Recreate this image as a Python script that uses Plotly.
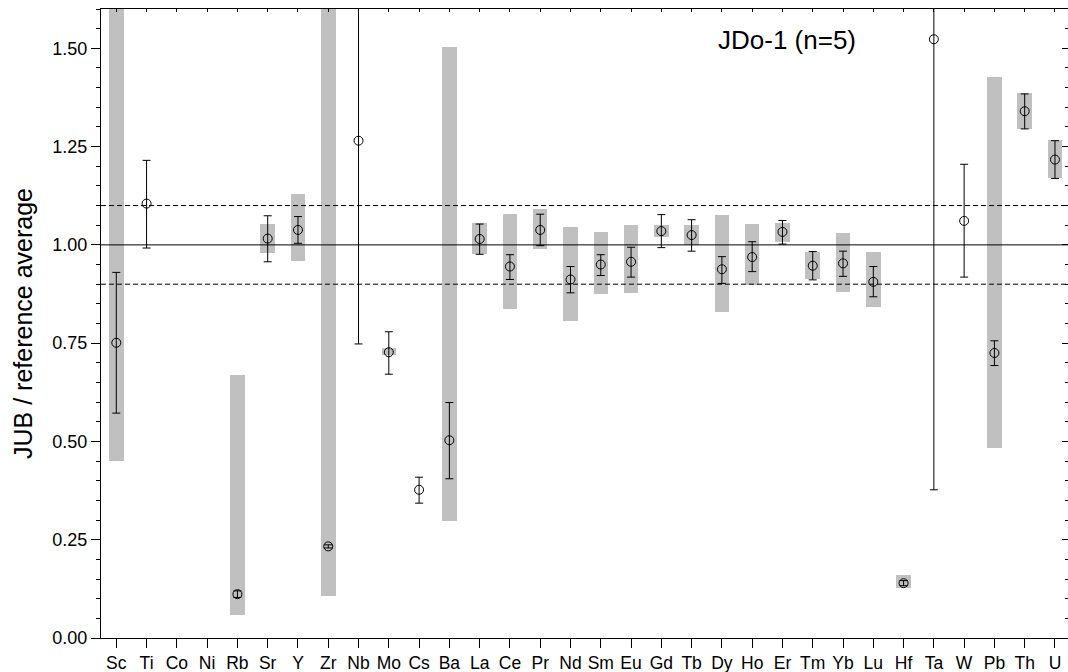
import plotly.graph_objects as go

elements = ["Sc", "Ti", "Co", "Ni", "Rb", "Sr", "Y", "Zr", "Nb", "Mo", "Cs", "Ba",
            "La", "Ce", "Pr", "Nd", "Sm", "Eu", "Gd", "Tb", "Dy", "Ho", "Er", "Tm",
            "Yb", "Lu", "Hf", "Ta", "W", "Pb", "Th", "U"]

ratio = [0.751, 1.105, None, None, 0.1115, 1.016, 1.038, 0.233, 1.265, 0.727, 0.377, 0.503,
         1.015, 0.945, 1.038, 0.912, 0.950, 0.957, 1.035, 1.025, 0.938, 0.969, 1.033, 0.947,
         0.953, 0.906, 0.1395, 1.523, 1.061, 0.725, 1.340, 1.217]

err_high = [0.930, 1.215, None, None, 0.120, 1.074, 1.072, 0.237, 1.780, 0.779, 0.409, 0.599,
            1.053, 0.975, 1.078, 0.945, 0.975, 0.994, 1.077, 1.064, 0.970, 1.008, 1.062, 0.983,
            0.984, 0.945, 0.146, 2.670, 1.205, 0.756, 1.384, 1.265]

err_low = [0.572, 0.992, None, None, 0.103, 0.957, 1.004, 0.229, 0.748, 0.671, 0.343, 0.405,
           0.976, 0.912, 0.998, 0.878, 0.922, 0.918, 0.993, 0.984, 0.902, 0.932, 1.002, 0.911,
           0.920, 0.868, 0.133, 0.377, 0.918, 0.693, 1.295, 1.169]

range_high = [1.750, None, None, None, 0.668, 1.054, 1.130, 1.750, None, 0.737, None, 1.503,
              1.056, 1.079, 1.091, 1.046, 1.033, 1.050, 1.050, 1.050, 1.077, 1.054, 1.055, 0.983,
              1.031, 0.982, 0.160, None, None, 1.428, 1.387, 1.266]

range_low = [0.450, None, None, None, 0.0595, 0.980, 0.960, 0.107, None, 0.719, None, 0.298,
             0.977, 0.838, 0.989, 0.807, 0.876, 0.878, 1.021, 1.000, 0.830, 0.898, 1.008, 0.913,
             0.881, 0.843, 0.126, None, None, 0.483, 1.295, 1.169]

ref_levels = [1.0, 1.1, 0.9]
ref_dash = ["solid", "5px,3px", "5px,3px"]

y_tick_vals = [0.0, 0.25, 0.5, 0.75, 1.0, 1.25, 1.5]
y_tick_text = ["0.00", "0.25", "0.50", "0.75", "1.00", "1.25", "1.50"]

FONT = "Arial, Liberation Sans, sans-serif"

bar_len = [None if (h is None or l is None) else h - l for h, l in zip(range_high, range_low)]
plus = [None if (h is None or v is None) else h - v for h, v in zip(err_high, ratio)]
minus = [None if (l is None or v is None) else v - l for l, v in zip(err_low, ratio)]

fig = go.Figure()
fig.add_trace(go.Bar(
    x=elements, y=bar_len, base=range_low, width=0.48,
    marker=dict(color="#c0c0c0", line=dict(width=0)),
    showlegend=False, hoverinfo="skip"))

fig.add_trace(go.Scatter(
    x=elements, y=ratio, mode="markers",
    marker=dict(symbol="circle-open", size=9, color="black", line=dict(width=1, color="black")),
    error_y=dict(type="data", symmetric=False, array=plus, arrayminus=minus,
                 color="black", thickness=1, width=4),
    showlegend=False))

# dummy trace for the mirrored top/right axes
fig.add_trace(go.Scatter(x=[None], y=[None], xaxis="x2", yaxis="y2",
                         showlegend=False, hoverinfo="skip"))

for lvl, dsh in zip(ref_levels, ref_dash):
    fig.add_shape(type="line", xref="paper", x0=0, x1=1, yref="y", y0=lvl, y1=lvl,
                  line=dict(color="black", width=1, dash=dsh), layer="above")

xr = [-0.505, 31.43]
yr = [0, 1.6]

fig.update_layout(
    width=1068, height=672,
    margin=dict(l=101, r=0, t=9, b=34),
    paper_bgcolor="white", plot_bgcolor="white",
    font=dict(family=FONT, color="black"),
    xaxis=dict(type="category", range=xr, showgrid=False, zeroline=False,
               showline=True, linecolor="black", linewidth=1,
               ticks="outside", ticklen=9, tickcolor="black", tickwidth=1,
               tickfont=dict(size=17.5, family=FONT, color="black")),
    yaxis=dict(range=yr, showgrid=False, zeroline=False,
               showline=True, linecolor="black", linewidth=1,
               tickvals=y_tick_vals, ticktext=y_tick_text,
               ticks="outside", ticklen=9, tickcolor="black", tickwidth=1,
               minor=dict(dtick=0.05, tick0=0, ticks="outside", ticklen=4,
                          tickcolor="black", tickwidth=1, showgrid=False),
               tickfont=dict(size=18, family=FONT, color="black"),
               title=dict(text="JUB / reference average", standoff=12,
                          font=dict(size=25, family=FONT, color="black"))),
    xaxis2=dict(overlaying="x", side="top", anchor="y", range=xr, type="linear",
                tick0=0, dtick=1, showticklabels=False, showgrid=False, zeroline=False,
                showline=True, linecolor="black", linewidth=1,
                ticks="inside", ticklen=3, tickcolor="black", tickwidth=1),
    yaxis2=dict(overlaying="y", side="right", anchor="x", range=yr,
                tickvals=y_tick_vals, showticklabels=False, showgrid=False, zeroline=False,
                showline=True, linecolor="black", linewidth=1,
                ticks="inside", ticklen=6, tickcolor="black", tickwidth=1,
                minor=dict(dtick=0.05, tick0=0, ticks="inside", ticklen=3,
                           tickcolor="black", tickwidth=1, showgrid=False)),
    annotations=[dict(text="JDo-1 (n=5)", xref="paper", yref="paper",
                      x=(716 - 101) / 967, y=(638 - 40) / 629,
                      xanchor="left", yanchor="middle", showarrow=False,
                      font=dict(size=26, family=FONT, color="black"))],
    bargap=0,
)

fig.write_html("out.html")
